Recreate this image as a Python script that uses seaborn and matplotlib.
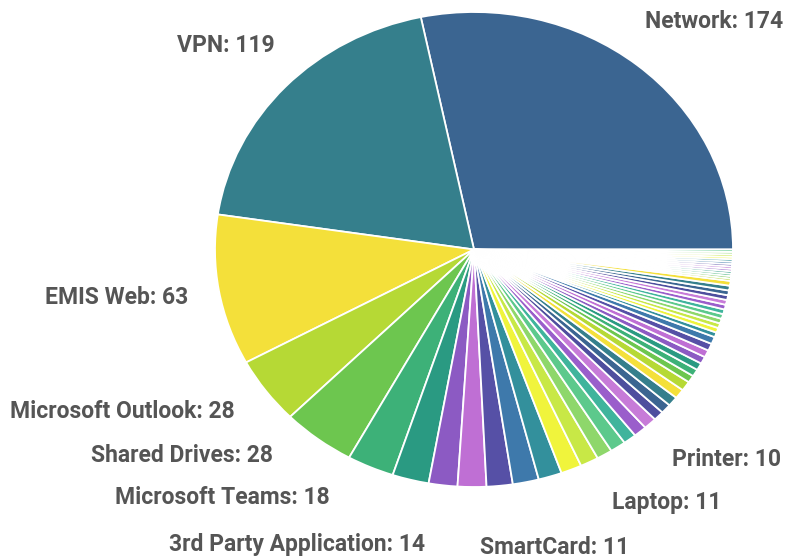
import matplotlib
matplotlib.use("Agg")
import matplotlib.pyplot as plt
import seaborn as sns
import numpy as np

# ---- data ----
labeled_names = ["Network", "VPN", "EMIS Web", "Microsoft Outlook", "Shared Drives",
                 "Microsoft Teams", "3rd Party Application", "SmartCard", "Laptop", "Printer"]
labeled_values = [174, 119, 63, 28, 28, 18, 14, 11, 11, 10]
# smaller unlabeled categories (estimated)
other_values = [10, 9, 8, 7, 6, 6, 5, 5, 5, 4, 4, 4, 4, 4, 3, 3, 3, 3, 3, 3, 3,
                2, 2, 2, 2, 2, 2, 2, 2, 2, 2, 2, 2,
                1, 1, 1, 1, 1, 1, 1, 1, 1, 1, 1, 1, 1]

values = labeled_values + other_values

palette_a = ["#3B6591", "#357F8C", "#F4E03A", "#B6D935", "#6DC64F",
             "#3DB178", "#2A9A82", "#8C5AC3", "#BF6FD4", "#5650A6"]
palette_b = ["#3E79AB", "#33909C", "#F0F43C", "#C8E846", "#8ED76B",
             "#5CC98C", "#3FB49C", "#9A5ECB", "#C77BD8", "#4E4E9E"]

sns.set_theme(style="white")
plt.rcParams['font.family'] = ['Roboto', 'DejaVu Sans']

colors = sns.color_palette(palette_a + palette_b, len(palette_a + palette_b))
slice_colors = [colors[i % len(colors)] for i in range(len(values))]

W, H = 787, 559
fig = plt.figure(figsize=(W / 100, H / 100), dpi=100)
fig.patch.set_facecolor("white")

# pie bounding box in pixels (left, top, right, bottom)
x0, y0, x1, y1 = 215, 12, 733, 487
ax = fig.add_axes([x0 / W, 1 - y1 / H, (x1 - x0) / W, (y1 - y0) / H])
ax.pie(values, colors=slice_colors, startangle=0, counterclock=True,
       wedgeprops=dict(edgecolor="white", linewidth=1.3))
ax.set_aspect("auto")
ax.set_xlim(-1, 1)
ax.set_ylim(-1, 1)
ax.axis("off")

label_texts = [f"{n}: {v}" for n, v in zip(labeled_names, labeled_values)]
# (x, y, ha) in pixels
label_pos = [
    (783, 22, "right"),
    (275, 45, "right"),
    (188, 297, "right"),
    (235, 411, "right"),
    (273, 455, "right"),
    (330, 498, "right"),
    (425, 545, "right"),
    (480, 548, "left"),
    (612, 503, "left"),
    (672, 460, "left"),
]
for t, (px, py, ha) in zip(label_texts, label_pos):
    fig.text(px / W, 1 - py / H, t, ha=ha, va="center", fontsize=16.5,
             fontweight="bold", color="#555555")

fig.savefig("out.png", dpi=100, facecolor="white")
